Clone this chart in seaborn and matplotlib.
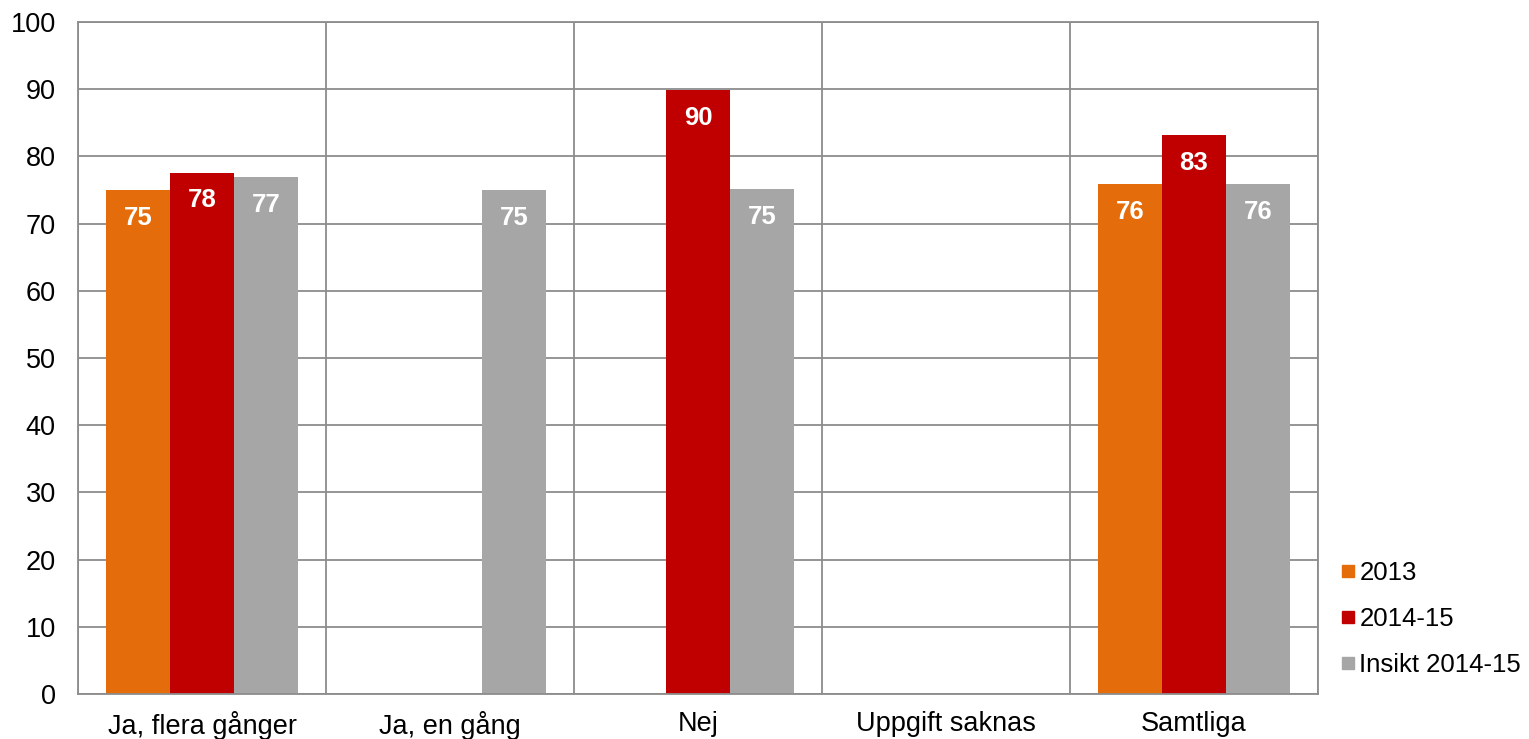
import pandas as pd
import numpy as np
import matplotlib
matplotlib.use("Agg")
import matplotlib.pyplot as plt
import seaborn as sns
from matplotlib.lines import Line2D

# Data
categories = ["Ja, flera gånger", "Ja, en gång", "Nej", "Uppgift saknas", "Samtliga"]
series = ["2013", "2014-15", "Insikt 2014-15"]
values_2013 = [75.0, np.nan, np.nan, np.nan, 75.9]
values_2014_15 = [77.6, np.nan, 89.9, np.nan, 83.2]
values_insikt = [76.9, 75.0, 75.1, np.nan, 75.9]
colors = ["#E46C0A", "#C00000", "#A6A6A6"]
y_ticks = list(range(0, 101, 10))


def build_frame():
    """Long-form table for seaborn."""
    rows = []
    for name, vals in zip(series, [values_2013, values_2014_15, values_insikt]):
        for cat, v in zip(categories, vals):
            rows.append({"Kategori": cat, "Serie": name, "Värde": v})
    return pd.DataFrame(rows)


def main():
    sns.set_style("white")
    plt.rcParams["font.family"] = ["Liberation Sans", "DejaVu Sans"]
    plt.rcParams["text.color"] = "black"
    plt.rcParams["xtick.color"] = "black"
    plt.rcParams["ytick.color"] = "black"

    data = build_frame()
    fig = plt.figure(figsize=(15.29, 7.39), dpi=100)
    ax = fig.add_axes([78 / 1529, 1 - 694 / 739, (1318 - 78) / 1529, (694 - 22) / 739])

    sns.barplot(data=data, x="Kategori", y="Värde", hue="Serie", order=categories,
                hue_order=series, palette=colors, width=0.775, saturation=1,
                errorbar=None, legend=False, linewidth=0, edgecolor="none", ax=ax)

    # value labels in white, inside the top of each bar
    for container in ax.containers:
        for bar in container:
            h = bar.get_height()
            if np.isnan(h) or h == 0:
                continue
            ax.annotate(f"{h:.0f}", (bar.get_x() + bar.get_width() / 2, h),
                        xytext=(0, -20), textcoords="offset points",
                        ha="center", va="center", color="white",
                        fontsize=18.5, fontweight="bold")

    grid_col = "#8C8C8C"
    ax.set_ylim(0, 100)
    ax.set_xlim(-0.5, len(categories) - 0.5)
    ax.set_yticks(y_ticks)
    ax.set_xticks(np.arange(-0.5, len(categories)), minor=True)
    ax.grid(True, axis="y", which="major", color=grid_col, linewidth=1.3)
    ax.grid(True, axis="x", which="minor", color=grid_col, linewidth=1.3)
    ax.grid(False, axis="x", which="major")
    ax.set_axisbelow(True)
    ax.tick_params(axis="x", which="major", length=0, labelsize=19.5, pad=12)
    ax.tick_params(axis="x", which="minor", length=7, width=1.3, color=grid_col)
    ax.tick_params(axis="y", length=0, labelsize=19.5, pad=16)
    ax.set_xlabel("")
    ax.set_ylabel("")
    for side in ["left", "bottom", "top", "right"]:
        ax.spines[side].set_color(grid_col)
        ax.spines[side].set_linewidth(1.3)

    handles = [Line2D([], [], marker="s", linestyle="", markersize=9,
                      markerfacecolor=c, markeredgecolor=c) for c in colors]
    fig.legend(handles, series, loc="upper left", bbox_to_anchor=(1331 / 1529, 1 - 551 / 739),
               frameon=False, fontsize=18.5, handlelength=0.55, handletextpad=0.15,
               labelspacing=0.85, borderaxespad=0)

    fig.savefig("out.png", dpi=100)


if __name__ == "__main__":
    main()
